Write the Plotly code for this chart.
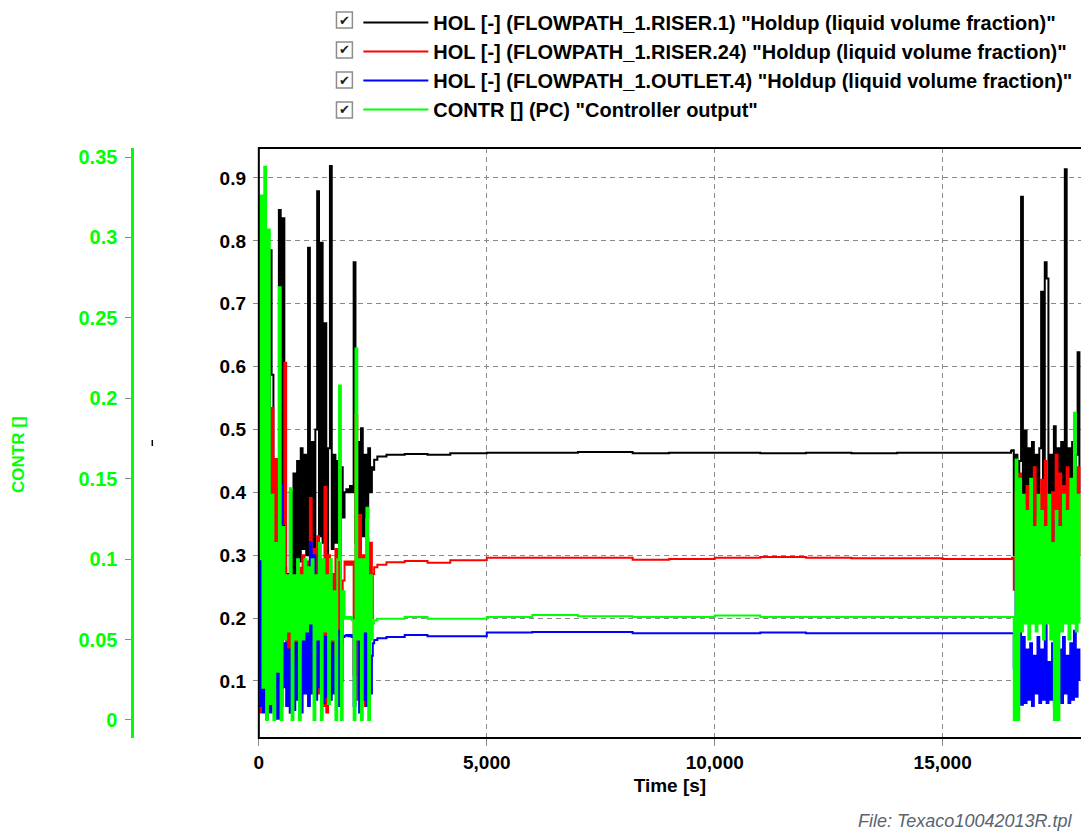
import plotly.graph_objects as go

# ---------------- data ----------------
t_left = list(range(0, 2520, 40))
t_steady = [2500, 2530, 2600, 2800, 3200, 3700, 4200, 5000, 6000, 7000,
            8200, 9000, 10000, 11000, 12000, 13000, 14000, 15000, 16000, 16500]
t_right = list(range(16520, 18040, 40))

riser1_left = [0.30, 0.12, 0.45, 0.20, 0.35, 0.15, 0.785, 0.587, 0.25, 0.40,
               0.18, 0.849, 0.30, 0.836, 0.28, 0.27, 0.23, 0.40, 0.26, 0.43,
               0.24, 0.45, 0.29, 0.47, 0.31, 0.46, 0.30, 0.789, 0.32, 0.48,
               0.31, 0.50, 0.879, 0.33, 0.797, 0.32, 0.669, 0.30, 0.47, 0.919,
               0.31, 0.46, 0.32, 0.45, 0.30, 0.44, 0.36, 0.40, 0.405, 0.40,
               0.41, 0.40, 0.766, 0.32, 0.48, 0.31, 0.502, 0.33, 0.46, 0.36,
               0.47, 0.40, 0.44]
riser1_steady = [0.436, 0.452, 0.457, 0.460, 0.461, 0.460, 0.462, 0.463, 0.463, 0.464,
                 0.462, 0.463, 0.463, 0.462, 0.463, 0.462, 0.463, 0.463, 0.463, 0.466]
riser1_right = [0.467, 0.30, 0.46, 0.33, 0.45, 0.87, 0.34, 0.498, 0.36, 0.47,
                0.32, 0.48, 0.35, 0.46, 0.34, 0.47, 0.719, 0.33, 0.766, 0.74,
                0.36, 0.46, 0.31, 0.505, 0.35, 0.47, 0.32, 0.48, 0.34, 0.914,
                0.33, 0.47, 0.36, 0.48, 0.33, 0.46, 0.623, 0.40]

riser24_left = [0.05, 0.30, 0.06, 0.25, 0.08, 0.34, 0.12, 0.534, 0.07, 0.453,
                0.10, 0.28, 0.06, 0.35, 0.606, 0.09, 0.19, 0.05, 0.22, 0.10,
                0.26, 0.12, 0.28, 0.14, 0.30, 0.11, 0.29, 0.13, 0.391, 0.12,
                0.31, 0.10, 0.33, 0.08, 0.28, 0.06, 0.409, 0.05, 0.30, 0.11,
                0.27, 0.09, 0.31, 0.12, 0.29, 0.16, 0.26, 0.29, 0.285, 0.29,
                0.285, 0.29, 0.11, 0.523, 0.07, 0.364, 0.10, 0.30, 0.06, 0.33,
                0.08, 0.32, 0.20]
riser24_steady = [0.270, 0.281, 0.285, 0.289, 0.291, 0.288, 0.292, 0.296, 0.296, 0.296,
                  0.293, 0.294, 0.296, 0.297, 0.296, 0.295, 0.295, 0.294, 0.294, 0.294]
riser24_right = [0.296, 0.245, 0.40, 0.20, 0.43, 0.26, 0.38, 0.22, 0.41, 0.25,
                 0.39, 0.21, 0.44, 0.24, 0.36, 0.26, 0.42, 0.23, 0.45, 0.27,
                 0.38, 0.22, 0.40, 0.25, 0.46, 0.28, 0.43, 0.24, 0.41, 0.30,
                 0.44, 0.26, 0.39, 0.23, 0.42, 0.25, 0.44, 0.30]

outlet4_left = [0.06, 0.294, 0.05, 0.20, 0.04, 0.15, 0.05, 0.22, 0.07, 0.18,
                0.04, 0.30, 0.413, 0.09, 0.16, 0.06, 0.15, 0.05, 0.13, 0.054,
                0.16, 0.07, 0.14, 0.05, 0.17, 0.08, 0.20, 0.06, 0.321, 0.08,
                0.30, 0.07, 0.18, 0.09, 0.16, 0.065, 0.17, 0.075, 0.15, 0.07,
                0.16, 0.08, 0.14, 0.06, 0.18, 0.10, 0.17, 0.172, 0.173, 0.171,
                0.173, 0.170, 0.06, 0.20, 0.286, 0.05, 0.16, 0.07, 0.18, 0.06,
                0.15, 0.08, 0.14]
outlet4_steady = [0.160, 0.165, 0.168, 0.170, 0.173, 0.171, 0.171, 0.177, 0.178, 0.178,
                  0.176, 0.176, 0.176, 0.177, 0.176, 0.176, 0.176, 0.176, 0.176, 0.176]
outlet4_right = [0.176, 0.12, 0.29, 0.07, 0.18, 0.062, 0.17, 0.065, 0.15, 0.07,
                 0.16, 0.06, 0.14, 0.08, 0.17, 0.065, 0.15, 0.07, 0.27, 0.065,
                 0.13, 0.07, 0.16, 0.06, 0.356, 0.07, 0.15, 0.065, 0.17, 0.08,
                 0.14, 0.065, 0.16, 0.07, 0.18, 0.075, 0.15, 0.10]

contr_left = [0.10, 0.326, 0.02, 0.344, 0.0, 0.305, 0.01, 0.14, 0.0, 0.11,
              0.03, 0.269, 0.0, 0.12, 0.05, 0.09, 0.055, 0.144, 0.0, 0.09,
              0.05, 0.10, 0.0, 0.09, 0.05, 0.10, 0.055, 0.095, 0.06, 0.10,
              0.0, 0.09, 0.05, 0.11, 0.0, 0.10, 0.055, 0.09, 0.01, 0.10,
              0.05, 0.08, 0.0, 0.10, 0.208, 0.0, 0.08, 0.063, 0.064, 0.063,
              0.064, 0.062, 0.0, 0.231, 0.05, 0.10, 0.0, 0.10, 0.055, 0.132,
              0.0, 0.09, 0.05]
contr_steady = [0.060, 0.062, 0.063, 0.063, 0.064, 0.063, 0.063, 0.064, 0.0652, 0.0645,
                0.064, 0.064, 0.065, 0.064, 0.064, 0.064, 0.064, 0.064, 0.064, 0.064]
contr_right = [0.064, 0.0, 0.162, 0.0, 0.15, 0.055, 0.14, 0.06, 0.13, 0.05,
               0.15, 0.06, 0.12, 0.055, 0.14, 0.06, 0.13, 0.05, 0.12, 0.06,
               0.14, 0.05, 0.11, 0.0, 0.13, 0.0, 0.12, 0.055, 0.14, 0.06,
               0.13, 0.05, 0.15, 0.06, 0.191, 0.055, 0.14, 0.06]

series_names = [
    'HOL [-] (FLOWPATH_1.RISER.1) "Holdup (liquid volume fraction)"',
    'HOL [-] (FLOWPATH_1.RISER.24) "Holdup (liquid volume fraction)"',
    'HOL [-] (FLOWPATH_1.OUTLET.4) "Holdup (liquid volume fraction)"',
    'CONTR [] (PC) "Controller output"',
]
series_colors = ['#000000', '#ff0000', '#0000ff', '#00ff00']

x_tickvals = [0, 5000, 10000, 15000]
x_ticktext = ['0', '5,000', '10,000', '15,000']
y_tickvals = [0.1, 0.2, 0.3, 0.4, 0.5, 0.6, 0.7, 0.8, 0.9]
y2_tickvals = [0, 0.05, 0.1, 0.15, 0.2, 0.25, 0.3, 0.35]
y2_ticktext = ['0', '0.05', '0.1', '0.15', '0.2', '0.25', '0.3', '0.35']

# ---------------- figure ----------------
W, H = 1081, 833
M_T, M_B = 148, 95
PH = H - M_T - M_B
DX = -2  # small horizontal correction


def px_x(px):
    return (px + DX) / W


def px_y(py):
    return (H - M_B - py) / PH


time = t_left + t_steady + t_right
ys = [
    riser1_left + riser1_steady + riser1_right,
    riser24_left + riser24_steady + riser24_right,
    outlet4_left + outlet4_steady + outlet4_right,
    contr_left + contr_steady + contr_right,
]

fig = go.Figure()
for i, (name, col, y) in enumerate(zip(series_names, series_colors, ys)):
    fig.add_trace(go.Scatter(
        x=time, y=y, mode='lines', name=name,
        line=dict(color=col, width=2, shape='hv'),
        yaxis='y2' if i == 3 else 'y',
        legendgroup=f'g{i}',
    ))

FONT = 'Liberation Sans, Arial, sans-serif'
grid = dict(showgrid=True, gridcolor='#8a8a8a', gridwidth=1, griddash='5px,4px')

fig.update_layout(
    width=W, height=H,
    margin=dict(l=0, r=0, t=M_T, b=M_B, pad=0),
    paper_bgcolor='white', plot_bgcolor='white',
    font=dict(family=FONT, size=19, color='black'),
    showlegend=True,
    legend=dict(
        x=px_x(357), y=px_y(3), xanchor='left', yanchor='top',
        font=dict(family=FONT, size=20, color='black', weight='bold'),
        itemwidth=65, tracegroupgap=0, bgcolor='rgba(0,0,0,0)',
        borderwidth=0,
    ),
    xaxis=dict(
        domain=[px_x(257), 1.0], range=[0, 17991 + 2 * 21.8],
        tickvals=x_tickvals, ticktext=x_ticktext,
        ticks='outside', ticklen=7, tickcolor='#8a8a8a', tickwidth=1,
        tickfont=dict(family=FONT, size=19, weight='bold', color='black'),
        title=dict(text='Time [s]', font=dict(family=FONT, size=19, weight='bold', color='black'), standoff=6),
        zeroline=False, showline=False, **grid,
    ),
    yaxis=dict(
        range=[0.0093, 0.9477],
        tickvals=y_tickvals,
        ticks='outside', ticklen=5, tickcolor='#8a8a8a', tickwidth=1, ticklabelstandoff=3,
        tickfont=dict(family=FONT, size=19, weight='bold', color='black'),
        zeroline=False, showline=False, **grid,
    ),
    yaxis2=dict(
        overlaying='y', anchor='free', position=px_x(130), side='left',
        range=[-0.0112, 0.3556],
        tickvals=y2_tickvals, ticktext=y2_ticktext,
        ticks='outside', ticklen=6, tickcolor='#8a8a8a', tickwidth=1, ticklabelstandoff=4,
        tickfont=dict(family=FONT, size=20, weight='bold', color='#00ff00'),
        showline=True, linecolor='#00ff00', linewidth=3,
        showgrid=False, zeroline=False,
    ),
)

# plot frame (right edge lies beyond the page)
fig.add_shape(type='rect', xref='paper', yref='paper',
              x0=px_x(257), x1=1.02, y0=0, y1=1,
              line=dict(color='black', width=2), fillcolor='rgba(0,0,0,0)', layer='above')

# legend check boxes
for rowy in [20, 50, 80, 110]:
    fig.add_shape(type='rect', xref='paper', yref='paper',
                  x0=px_x(335), x1=px_x(351), y0=px_y(rowy + 8), y1=px_y(rowy - 8),
                  line=dict(color='#8c8c8c', width=1.5), fillcolor='white')
    fig.add_annotation(x=px_x(343), y=px_y(rowy), xref='paper', yref='paper',
                       text='✔', showarrow=False, xanchor='center', yanchor='middle',
                       font=dict(family='DejaVu Sans', size=13, color='#202020'))

# secondary axis title
fig.add_annotation(x=px_x(15), y=px_y(455), xref='paper', yref='paper',
                   text='CONTR []', textangle=-90, showarrow=False,
                   xanchor='center', yanchor='middle',
                   font=dict(family=FONT, size=17, weight='bold', color='#00ff00'))

# small mark left of plot
fig.add_shape(type='line', xref='paper', yref='paper',
              x0=px_x(150), x1=px_x(150), y0=px_y(446), y1=px_y(440),
              line=dict(color='black', width=1.5))

# file label
fig.add_annotation(x=px_x(1076), y=px_y(821), xref='paper', yref='paper',
                   text='File: Texaco10042013R.tpl', showarrow=False,
                   xanchor='right', yanchor='middle',
                   font=dict(family=FONT, size=18, style='italic', color='#59646f'))

fig.write_html('out.html', config={'displayModeBar': False},
               post_script="document.body.style.margin='0';document.body.style.overflow='hidden';")
